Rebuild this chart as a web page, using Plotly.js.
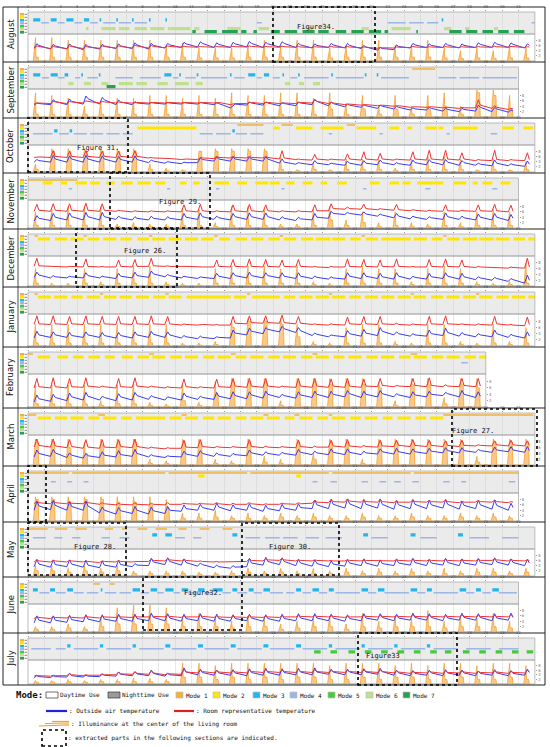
<!DOCTYPE html>
<html><head><meta charset="utf-8">
<script src="https://cdn.plot.ly/plotly-3.0.1.min.js"></script>
<style>body{margin:0;background:#fff}#chart{width:550px;height:747px}</style>
</head><body><div id="chart"></div><script>
// ---------------- DATA ----------------
const monthNames=['August','September','October','November','December','January','February','March','April','May','June','July'];
const monthDays=[31,30,31,30,31,31,28,31,30,31,30,31];
const modeNames=['Mode 1','Mode 2','Mode 3','Mode 4','Mode 5','Mode 6','Mode 7'];
const sampleHours=[9,13,16]; // hours of the three daily temperature readings
// temperatures: three readings per day (9h,13h,16h), panel level 0-10
// illuminance: two values per day (peak, afternoon level)
const augOut=[5.0,6.6,6.0,4.6,6.4,5.8,4.6,6.6,5.8,4.4,6.4,5.6,4.6,6.4,5.8,4.8,6.6,5.8,4.8,7.0,6.2,4.6,6.8,6.0,5.0,6.8,6.2,5.2,7.2,6.6,
5.4,7.4,6.8,5.2,7.0,6.4,5.2,7.2,6.6,5.4,7.6,6.8,5.2,7.2,6.6,5.4,7.4,6.8,5.2,6.8,6.2,5.0,6.6,6.0,5.2,6.8,6.2,5.0,6.8,6.0,
4.8,6.0,5.4,4.2,5.2,4.8,4.4,6.2,5.6,5.0,6.8,6.2,5.2,6.6,6.0,5.2,6.8,6.2,5.0,6.6,6.0,5.2,7.0,6.4,5.2,7.2,6.6,5.2,7.0,6.4,5.0,6.6,6.0];
const augRoom=[4.8,5.8,5.6,4.8,5.6,5.4,4.8,5.8,5.6,4.8,5.6,5.4,4.9,5.8,5.6,5.0,5.8,5.6,5.0,6.1,5.8,5.0,6.0,5.6,5.1,5.8,5.6,5.3,5.7,5.5,
5.3,5.6,5.5,5.3,5.6,5.5,5.3,5.7,5.5,5.4,5.8,5.6,5.3,5.6,5.5,5.3,5.7,5.5,5.3,5.6,5.4,5.2,5.5,5.4,5.3,5.6,5.4,5.2,5.6,5.4,
5.1,5.4,5.3,4.9,5.2,5.1,5.0,5.4,5.3,5.2,5.6,5.4,5.2,5.5,5.4,5.2,5.6,5.4,5.2,5.5,5.4,5.2,5.6,5.4,5.3,5.7,5.5,5.3,5.6,5.5,5.2,5.5,5.4];
const augLux=[9,1.5,9,1.5,8,1.5,8,1.5,8,1.5,8,1.5,8,1.5,8,1.5,6,1.5,7,1.5,5,1.2,5,1.2,5,1.2,6,1.5,8,1.5,6,1.5,8,1.5,8,1.5,5,1.2,6,1.5,8,1.5,8,1.5,6,1.5,6,1.5,8,1.5,5,1.2,4,1,5,1.2,4,1,6,1.2,5,1.2];
const augM3=[1.32,1.75,2.39,2.75,3.35,3.78,4.42,4.74,5.38,5.48,6.4,6.5,7.36,7.46,8.4,8.5,9.4,9.5,26.3,26.4];
const augM4=[1.81,2.28,2.82,3.24,3.84,4.31,4.8,5.27,5.6,6.35,6.56,7.31,7.52,8.27,15.0,15.3,23.0,24.1,24.3,25.2,25.4,26.1,31.8,32.0];
const augM6=[4.55,4.7,5.49,6.35,6.56,7.2,7.52,8.27,8.48,9.34,9.55,10.94,11.16,11.48,13.19,14.0,15.1,15.75,18.1,18.4,21.4,21.85,23.24,24.4,26.45,26.9,27.73,28.0,29.5,29.75];
const augM7=[11.05,11.26,11.8,12.55,12.87,13.83,14.04,14.36,14.79,15.0,15.86,16.4,16.7,17.46,17.79,18.53,18.75,19.39,19.82,20.46,20.78,21.53,21.85,22.6,22.81,23.03,24.75,24.85,26.77,27.52,27.8,28.48,28.8,29.44,29.76,30.4,30.72,31.36];

const sepOut=[4.4,5.2,5.0,4.6,6.4,5.8,4.6,6.7,5.8,4.8,7.8,6.8,4.8,7.3,6.4,4.6,6.3,5.6,4.6,5.7,5.2,4.8,5.4,5.2,4.8,5.4,5.2,4.8,5.4,5.2,
4.8,5.4,5.2,4.6,5.2,5.0,3.4,4.4,4.8,4.4,5.6,5.2,4.4,5.6,5.2,4.2,5.4,5.0,4.2,5.6,5.2,4.6,6.6,5.8,4.2,5.6,5.0,3.8,4.8,4.4,
3.6,4.6,4.2,3.2,4.4,4.0,3.0,4.0,3.6,2.6,3.4,3.0,2.6,3.6,3.2,2.2,3.2,2.8,2.0,3.2,2.8,2.2,4.4,3.6,2.0,3.6,3.0,1.8,2.6,2.2];
const sepRoom=[4.8,5.2,5.2,5.0,5.8,5.6,5.0,5.8,5.6,5.2,6.0,5.8,5.2,5.8,5.6,5.2,5.6,5.4,5.2,5.4,5.4,5.2,5.4,5.4,5.2,5.4,5.4,5.2,5.4,5.4,
5.2,5.4,5.4,5.2,5.4,5.4,4.6,4.8,5.0,5.0,5.4,5.4,5.0,5.4,5.4,5.0,5.2,5.2,5.0,5.4,5.4,5.2,6.4,5.8,5.0,5.4,5.2,4.6,4.8,4.8,
4.4,4.6,4.6,4.2,4.4,4.4,4.0,4.2,4.2,3.6,3.8,3.8,3.6,3.8,3.8,3.4,3.6,3.6,3.2,3.6,3.4,3.4,6.4,4.4,3.2,4.2,3.6,2.8,3.2,3.0];
const sepLux=[9,1,8,1,7,1,4,1,6,1,7,1,7,1,8,1,8,1,7,1,8,1,7,1,9,1,8,1,8,1,9,1,9,1,7,1,9,3,5,1,8,3,4,1,8,3,4,1,8,3,9,4,4,1,10,9,10,8,8,3];
const sepM1=[24.5,25.9];
const sepM3=[1.32,1.75,2.39,2.82,3.24,3.46,4.26,4.36,5.33,5.43,9.34,9.77,10.25,10.35,11.32,11.42,13.35,13.45,14.47,14.9,15.43,15.75,16.56,16.66,17.52,17.62,19.55,19.65,21.6,21.7,22.33,22.43];
const sepM4=[1.85,2.28,2.82,3.24,3.88,4.2,4.63,5.27,6.35,7.41,7.84,9.12,9.87,10.2,10.62,11.26,11.58,13.19,13.62,14.26,15.0,15.3,15.97,16.4,17.04,17.47,17.89,19.39,19.82,21.53,22.6,24.3,26.1,27.2,27.4,28.6,28.8,30.9];
const sepM6=[3.46,3.78,4.42,4.85,5.49,5.92,6.56,7.41,7.63,8.27,8.91,9.55,9.98,10.84,11.26,11.69,16.72,17.04,17.57,17.89,18.43,18.86];
const sepM7=[5.81,6.35];

const octOut=[3.8,4.8,4.4,3.8,6.4,5.0,3.8,6.2,5.0,3.8,6.4,5.0,3.8,6.2,5.0,3.8,6.0,4.8,3.8,6.2,4.8,3.6,4.6,4.2,3.4,4.0,3.8,3.2,3.8,3.6,
3.6,5.4,4.8,4.2,5.8,5.0,4.2,5.8,5.0,4.2,5.8,5.0,4.2,5.8,5.0,3.4,5.0,3.8,3.0,3.6,3.4,2.8,4.4,3.4,2.8,3.4,3.2,2.6,4.2,3.4,
2.6,4.4,3.4,2.8,4.6,3.6,2.8,3.6,3.2,2.6,4.6,3.6,2.8,4.8,3.8,2.8,4.8,3.8,2.6,4.4,3.6,2.6,3.4,3.0,2.4,4.6,3.4,2.4,3.2,2.8,2.2,4.2,3.0];
const octRoom=[5.6,5.8,5.8,5.6,8.2,6.0,5.6,8.0,6.0,5.6,8.2,6.0,5.6,8.0,6.0,5.6,8.0,6.0,5.6,8.2,6.0,5.4,5.6,5.4,5.2,5.4,5.2,4.8,5.0,5.0,
4.8,5.6,5.4,5.2,6.0,5.6,5.4,6.0,5.6,5.4,6.0,5.6,5.4,6.0,5.6,5.0,8.2,5.4,4.8,5.0,4.8,4.6,6.8,5.0,4.6,5.0,4.8,4.6,7.0,5.0,
4.6,7.8,5.0,4.6,7.2,5.0,4.6,5.0,4.8,4.6,7.8,5.0,4.6,8.4,5.0,4.6,8.4,5.0,4.6,7.4,5.0,4.4,4.8,4.6,4.4,8.4,4.8,4.4,4.8,4.6,4.4,7.4,4.8];
const octLux=[3,1,9,8,9,8,9,8,9,8,9,8,9,8,3,1,1.5,0.5,1,0.5,8,8,9,8,9,8,9,8,9,8,6,1,1,0.5,4,1,1,0.5,5,1,5,1,5,1,1.5,0.5,5,1,6,1,6,1,5,1,1,0.5,5,1,1,0.5,4,1];
const octM1=[13.8,15.4,16.5,17.2,20.5,21.0];
const octM2=[7.7,11.3,16.0,16.4,17.4,18.4,18.9,20.3,21.1,22.3,23.1,23.7,24.2,24.5,25.3,26.0,26.1,26.4,27.0,28.5,30.0,30.7,31.3,31.9];
const octM3=[2.6,2.8,3.55,3.7,13.5,13.65];
const octM4=[1.3,2.5,2.9,3.5,3.8,4.6,4.8,5.6,5.8,6.6,6.8,7.4,11.5,12.3,12.5,13.4,13.7,14.4,14.6,15.4,19.4,19.6,22.5,22.7,26.6,26.8,29.3,29.7];

const novOut=[2.6,4.6,3.6,2.8,5.4,4.0,3.0,5.6,4.2,3.0,5.8,4.2,3.0,5.8,4.2,3.2,4.4,3.8,3.0,4.2,3.6,3.0,4.4,3.6,3.0,4.2,3.6,3.0,5.4,4.0,
3.2,5.6,4.2,3.2,4.4,3.8,3.0,5.4,4.2,3.2,5.6,4.2,3.2,5.6,4.2,3.0,4.2,3.6,2.8,4.0,3.4,3.0,5.4,4.0,3.6,6.2,5.4,5.0,5.8,5.4,
4.8,6.0,5.2,4.4,5.2,4.8,3.8,5.4,4.4,3.4,4.4,4.0,3.2,4.2,3.8,3.2,5.6,4.2,3.2,4.4,3.8,3.0,5.2,4.0,3.0,5.4,4.0,2.8,5.0,3.6];
const novRoom=[6.2,8.8,6.6,6.2,9.0,6.6,6.2,9.0,6.6,6.2,9.2,6.6,6.2,9.0,6.6,6.2,6.6,6.4,6.0,6.4,6.2,6.0,6.4,6.2,6.0,6.4,6.2,6.0,8.6,6.4,
6.0,8.8,6.4,6.0,6.4,6.2,6.0,8.6,6.4,6.0,8.8,6.4,6.0,8.6,6.4,6.0,6.4,6.2,6.0,6.4,6.2,6.0,8.6,6.4,6.4,9.0,7.2,7.0,7.8,7.2,
7.0,8.8,7.2,6.8,7.2,7.0,6.6,8.8,6.8,6.4,6.8,6.6,6.2,6.6,6.4,6.2,8.6,6.4,6.2,6.6,6.4,6.2,8.6,6.4,6.2,8.8,6.4,6.0,8.4,6.2];
const novLux=[6,1,7,1,8,1,8,1,8,1,1.5,0.5,2,0.5,1.5,0.5,1.5,0.5,7,1,7,1,2,0.5,8,1,8,1,7,1,1.5,0.5,1.5,0.5,7,1,8,3,3,1,6,2,2,0.5,6,1,2,0.5,1.5,0.5,6,1,2,0.5,6,1,7,1,6,1];
const novM1=[1.0,4.0];
const novM2=[1.9,2.5,3.0,3.4,3.9,4.6,4.8,5.4,5.8,6.3,6.7,7.4,7.7,8.5,8.8,9.4,10.3,10.7,11.1,11.5,12.4,13.3,13.8,14.4,14.9,15.7,15.8,16.4,16.8,17.3,17.8,18.4,18.9,19.3,19.9,20.5,21.9,22.5,23.1,23.7,23.9,24.4,24.8,26.4,27.0,27.8,28.2,28.5,28.8,29.4,29.9,30.5];
const novM4=[3.5,3.7,9.5,9.7,12.5,12.7,16.5,16.7,21.5,21.7,25.3,25.6,29.4,29.7];

const decOut=[3.0,4.8,3.8,2.8,3.6,3.2,2.8,3.4,3.2,2.8,4.6,3.6,2.8,3.4,3.2,2.6,4.4,3.4,2.8,4.8,3.6,3.0,5.2,4.2,3.2,4.0,3.6,2.8,3.4,3.2,
2.6,3.2,3.0,2.6,4.4,3.4,2.6,4.6,3.6,2.8,4.8,3.6,2.8,4.6,3.6,2.8,4.6,3.4,2.6,4.6,3.4,2.6,3.4,3.0,2.4,3.2,2.8,2.4,4.6,3.4,
2.6,4.6,3.4,2.6,4.4,3.2,2.4,4.6,3.4,2.4,3.4,3.0,2.4,4.4,3.2,2.6,4.6,3.4,2.4,4.4,3.2,2.2,3.2,2.8,2.0,3.0,2.6,1.6,2.6,2.2,1.0,3.8,2.0];
const decRoom=[6.8,9.6,7.0,6.8,7.0,6.8,6.6,6.8,6.8,6.6,9.4,6.8,6.6,6.8,6.6,6.6,9.0,6.8,6.6,9.2,6.8,6.8,9.6,7.0,6.8,7.0,6.8,6.6,6.8,6.8,
6.6,6.8,6.6,6.6,9.0,6.8,6.6,9.2,6.8,6.6,9.4,6.8,6.6,9.2,6.8,6.6,9.0,6.8,6.6,9.2,6.8,6.6,6.8,6.6,6.4,6.8,6.6,6.6,9.4,6.8,
6.6,9.2,6.8,6.6,9.0,6.8,6.6,9.4,6.8,6.6,6.8,6.6,6.6,9.2,6.8,6.6,9.4,6.8,6.6,9.0,6.8,6.4,6.8,6.6,6.4,6.6,6.4,6.2,6.6,6.4,6.2,9.6,6.6];
const decLux=[6,1,1,0.3,1,0.3,6,1,1.5,0.5,6,1,7,1,7,1,1.5,0.5,1,0.3,1,0.3,6,1,7,1,7,1,7,1,6,1,7,1,1.5,0.5,1,0.3,6,1,7,1,6,1,6,1,1.5,0.5,6,1,7,1,6,1,1.5,0.5,1,0.3,1.5,0.5,8,1];
const decM1=[1.4,1.6,4.4,4.6,8.4,8.6,12.4,12.6,16.4,16.6,21.4,21.6,26.4,26.6];
const decM2=[1.6,2.35,2.65,3.4,3.6,4.4,4.65,5.35,5.6,6.4,6.65,7.35,7.7,8.4,8.6,9.4,9.6,10.4,10.6,11.4,11.6,12.35,12.7,13.35,13.7,14.4,14.65,15.4,15.7,16.4,16.65,17.4,17.7,18.45,18.6,19.5,19.6,20.4,20.7,21.35,21.65,22.4,22.6,24.4,24.6,25.4,25.7,26.35,26.65,27.4,27.6,28.5,28.6,29.5,29.6,30.45,30.7,31.4,31.6,32.0];

const janOut=[2.6,4.8,3.6,2.8,4.6,3.6,2.8,4.4,3.4,2.8,4.6,3.6,2.8,4.4,3.4,2.6,4.4,3.4,2.6,4.6,3.6,2.8,4.8,3.8,2.8,4.6,3.6,2.6,3.4,3.0,
2.4,3.2,2.8,2.4,3.0,2.8,2.6,5.2,4.2,3.6,5.8,4.8,4.0,6.0,5.4,4.6,6.4,5.6,4.4,6.0,5.0,3.4,4.2,3.8,3.0,3.6,3.4,3.0,5.0,4.0,
3.2,5.4,4.2,3.4,6.0,4.8,3.6,4.6,4.0,3.2,4.0,3.6,3.2,5.2,4.0,3.4,5.8,4.4,3.2,4.4,3.8,3.0,4.0,3.6,3.0,5.2,4.0,2.8,3.8,3.4,2.6,4.6,3.2];
const janRoom=[7.0,9.8,7.2,7.0,9.8,7.2,7.0,9.6,7.2,7.0,9.8,7.2,7.0,9.6,7.2,7.0,9.6,7.2,7.0,9.6,7.2,7.0,9.8,7.2,7.0,9.6,7.2,6.8,7.2,7.0,
6.8,7.0,7.0,6.8,7.0,6.8,6.8,9.6,7.4,7.2,9.8,7.6,7.4,9.8,7.6,7.4,10.0,7.6,7.2,9.6,7.4,7.0,7.2,7.0,6.8,7.2,7.0,6.8,9.4,7.2,
7.0,9.6,7.2,7.0,9.6,7.2,7.0,7.4,7.0,6.8,7.2,7.0,6.8,9.6,7.2,7.0,9.8,7.2,7.0,7.2,7.0,6.8,7.2,7.0,6.8,9.6,7.2,6.8,7.0,6.8,6.6,9.4,7.0];
const janLux=[7,1,7,1,7,1,7,1,7,1,7,1,7,1,7,1,7,1,1,0.3,1,0.3,1.5,0.5,8,6,9,8,9,8,9,7,7,3,1.5,0.5,1,0.3,6,1,7,1,7,1,1.5,0.5,1,0.3,7,1,7,1,1.5,0.5,1,0.3,7,1,1.5,0.5,6,1];
const janM1=[1.4,1.6,5.4,5.6,9.4,9.6,14.4,14.6,19.4,19.6,24.4,24.6,28.4,28.6];
const janM2=[1.6,2.4,2.6,3.4,3.65,4.35,4.6,5.4,5.65,6.4,6.6,7.35,7.6,8.4,8.65,9.4,9.6,10.4,10.7,13.4,13.6,14.35,14.7,16.4,16.65,17.35,17.6,18.4,18.6,19.4,19.6,20.4,20.65,21.35,21.6,22.4,22.6,23.4,23.6,24.4,24.6,25.35,25.65,26.4,26.6,27.4,27.6,28.4,28.6,29.4,29.65,30.4,30.6,31.4,31.6,32.0];

const febOut=[1.6,3.8,2.6,1.8,4.0,3.0,2.0,4.4,3.2,2.2,4.6,3.4,2.2,3.4,3.0,2.0,4.2,3.2,2.2,4.6,3.6,2.4,3.6,3.2,2.2,3.2,3.0,2.2,4.4,3.4,
2.4,3.4,3.0,2.4,4.6,3.4,2.6,4.8,3.6,2.6,4.8,3.8,2.8,5.0,4.0,3.0,4.0,3.6,2.8,4.8,3.8,3.0,5.0,4.0,3.0,5.0,4.0,3.2,5.2,4.2,
3.0,5.0,4.0,3.2,5.2,4.2,3.2,4.2,3.8,3.0,4.8,3.8,3.2,5.0,4.0,3.6,4.6,4.2,3.2,5.2,4.0,3.0,4.8,3.4];
const febRoom=[6.0,9.0,6.4,6.0,9.2,6.4,6.0,9.0,6.4,6.2,9.2,6.6,6.2,6.6,6.4,6.0,9.0,6.4,6.2,9.2,6.6,6.2,6.6,6.4,6.0,6.4,6.2,6.0,8.8,6.4,
6.0,6.4,6.2,6.0,8.8,6.4,6.2,9.0,6.6,6.2,9.0,6.6,6.2,9.0,6.6,6.2,6.6,6.4,6.2,9.0,6.6,6.2,9.0,6.6,6.2,8.8,6.6,6.2,9.0,6.6,
6.2,8.8,6.6,6.4,9.0,6.8,6.4,6.8,6.6,6.4,9.0,6.8,6.4,9.2,6.8,6.4,7.0,6.6,6.4,9.0,6.8,6.4,9.0,6.6];
const febLux=[7,1,7,1,7,1,7,1,2,0.5,7,1,8,1,1.5,0.5,1,0.3,7,2,1.5,0.5,8,4,9,8,9,8,9,8,2,0.5,9,8,9,8,9,7,9,8,9,7,8,6,2,0.5,9,7,9,7,3,1,9,7,9,6];
const febM1=[1.0,1.3,8.4,8.7,13.4,13.7,18.4,18.7,24.4,24.8];
const febM2=[1.6,2.35,2.8,3.45,3.75,4.4,4.7,5.4,5.7,6.3,6.75,7.4,7.7,8.4,8.6,9.4,9.7,10.4,10.6,11.4,11.7,12.4,12.6,13.4,13.7,14.35,14.6,15.4,15.7,16.4,16.6,17.4,17.7,18.4,18.6,19.4,19.7,20.35,20.6,21.4,21.7,22.4,22.6,23.4,23.7,24.4,24.6,25.4,25.7,26.4,26.6,27.4,27.7,28.4,28.6,29.0];
const febM4=[27.5,27.9];

const marOut=[2.8,5.2,4.0,3.0,5.4,4.2,2.6,4.2,3.4,2.4,4.0,3.2,2.6,4.6,3.4,2.8,5.0,3.6,3.0,5.4,4.0,2.8,3.6,3.2,2.6,3.2,3.0,2.8,4.8,3.8,
3.0,5.0,4.0,3.0,4.2,3.6,3.0,4.0,3.6,3.2,5.2,4.2,3.4,4.6,4.0,3.4,4.4,4.0,3.4,5.4,4.4,3.6,4.8,4.2,3.6,5.6,4.4,3.6,5.6,4.4,
3.6,4.8,4.2,3.8,5.6,4.6,3.8,5.8,4.6,3.8,5.6,4.6,4.0,5.8,4.8,4.2,6.0,5.0,4.2,6.0,5.0,4.4,5.4,5.0,4.4,6.2,5.2,4.6,6.4,5.2,4.4,6.4,5.0];
const marRoom=[6.2,9.0,6.8,6.2,9.0,6.6,6.0,8.8,6.4,5.8,8.8,6.2,5.8,8.8,6.2,6.0,8.8,6.4,6.0,9.0,6.4,5.8,6.2,6.0,5.6,6.0,5.8,5.8,8.6,6.2,
6.0,8.8,6.4,6.0,6.4,6.2,6.0,6.4,6.2,6.0,8.8,6.4,6.0,6.6,6.2,6.0,6.4,6.2,6.0,8.6,6.4,6.0,6.6,6.2,6.2,8.6,6.6,6.2,8.8,6.6,
6.2,6.8,6.4,6.2,8.6,6.6,6.4,8.6,6.8,6.4,8.8,6.8,6.4,8.6,6.8,6.4,8.4,6.8,6.4,8.6,6.8,6.6,7.0,6.8,6.6,8.4,7.0,6.6,8.6,7.0,6.6,8.4,6.8];
const marLux=[9,8,9,8,9,6,8,4,9,7,9,8,9,8,2,0.5,1.5,0.5,9,8,9,8,2,0.5,1.5,0.5,9,8,3,1,2,0.5,9,8,4,2,9,8,9,8,2,0.5,9,8,9,8,9,8,9,8,9,8,9,8,3,1,9,8,9,8,9,8];
const marM1=[1.0,1.5,5.3,5.7,10.4,10.7,15.4,15.7,17.3,17.6,19.4,19.6,26.4,31.9];
const marM2=[1.6,2.4,2.65,3.4,3.6,4.4,4.7,5.35,5.6,6.4,6.7,7.35,7.6,9.4,9.65,10.4,10.6,11.4,11.7,12.4,12.6,13.4,13.7,14.35,14.6,15.4,15.6,16.4,16.7,17.3,17.6,18.4,18.7,19.35,19.6,20.4,20.7,21.35,21.6,22.4,22.7,23.3,23.6,24.4,24.7,25.35,25.6,26.4];

const aprOut=[4.0,7.4,5.6,4.2,7.6,5.8,4.0,7.2,5.4,4.0,7.4,5.6,3.0,5.2,4.0,2.6,5.0,3.8,2.8,5.4,4.0,2.6,5.2,3.8,2.8,5.4,4.0,3.6,6.0,4.6,
4.0,6.2,5.0,4.0,6.6,5.2,3.8,6.0,4.8,4.0,6.4,5.0,3.6,5.8,4.6,3.8,6.2,4.8,4.0,6.4,5.0,4.6,7.8,6.0,4.6,8.0,6.2,4.8,8.2,6.4,
4.6,8.0,6.2,4.8,8.2,6.2,4.4,7.6,6.0,4.6,8.0,6.2,4.6,7.8,6.0,4.8,8.0,6.2,4.4,7.4,5.8,4.6,7.8,6.0,4.4,7.8,5.8,4.0,6.6,5.0];
const aprRoom=[6.4,7.4,6.8,6.4,7.6,6.8,6.4,7.2,6.6,6.4,7.4,6.8,6.2,6.8,6.4,6.0,6.6,6.2,6.0,6.8,6.2,6.0,6.6,6.2,6.0,6.8,6.2,6.2,6.6,6.4,
6.2,6.6,6.4,6.2,6.8,6.4,6.0,6.6,6.2,6.2,6.8,6.4,6.0,6.4,6.2,6.2,6.6,6.4,6.2,6.8,6.4,6.6,7.8,7.0,6.8,8.0,7.2,7.0,8.2,7.4,
7.0,7.8,7.2,7.0,8.0,7.2,6.8,7.6,7.0,7.0,7.8,7.2,7.0,7.6,7.2,7.0,7.8,7.2,6.8,7.4,7.0,7.0,7.6,7.2,7.0,7.8,7.2,6.8,7.2,7.0];
const aprLux=[9,8,9,8,9,7,9,8,9,8,9,7,9,7,9,6,8,5,3,1,3,1,4,1.5,2,1,3,1,2,1,3,1.5,2,1,3,1.5,2,1,2,1,3,1.5,2,1,2,1,3,1.5,2,1,2,1,3,1.5,2,1,3,1.5,2,1];
const aprM1=[1.0,3.5,3.7,9.4,9.6,14.4,14.6,19.4,19.6,24.4,24.6,31.0];
const aprM2=[11.4,11.8,17.4,17.7];
const aprM4=[2.4,2.7,3.4,3.7,4.4,4.7,18.4,18.7,19.5,19.9,21.4,21.8,22.5,22.9,23.4,23.8,24.5,24.9,26.4,26.8,27.5,27.8,30.4,30.8];

const mayOut=[3.6,6.4,4.6,3.4,6.2,4.4,3.6,6.2,4.6,3.4,6.0,4.2,3.2,5.8,4.2,3.4,6.0,4.4,3.6,4.8,4.2,4.0,6.8,5.4,4.4,7.0,5.6,4.2,6.6,5.2,
3.8,5.0,4.4,3.2,4.2,3.6,3.0,4.0,3.4,3.6,6.8,5.0,4.2,7.2,5.6,4.4,7.0,5.6,4.0,6.4,5.0,3.8,6.2,4.8,3.6,5.8,4.6,3.8,6.4,5.0,
4.0,6.6,5.0,3.8,6.2,4.8,4.0,6.6,5.0,4.2,6.8,5.2,4.0,6.4,5.0,4.2,6.8,5.2,4.0,6.6,5.0,4.2,6.8,5.2,4.4,7.0,5.4,4.2,6.6,5.2,4.0,6.4,5.0];
const mayRoom=[5.4,6.2,5.8,5.4,6.0,5.8,5.4,6.0,5.8,5.4,5.8,5.6,5.2,5.8,5.6,5.4,6.0,5.6,5.4,5.6,5.6,5.6,6.6,6.0,5.8,6.8,6.2,5.8,6.4,6.0,
5.6,5.8,5.6,5.4,5.6,5.4,5.4,5.6,5.4,5.6,6.6,6.0,5.8,6.8,6.2,6.0,6.8,6.2,5.8,6.2,6.0,5.8,6.2,6.0,5.8,6.0,5.8,5.8,6.2,6.0,
5.8,6.2,6.0,5.8,6.0,5.8,5.8,6.2,6.0,5.8,6.4,6.0,5.8,6.2,6.0,5.8,6.4,6.0,5.8,6.2,6.0,5.8,6.4,6.0,6.0,6.6,6.2,5.8,6.4,6.0,5.8,6.2,6.0];
const mayLux=[4,2,4,2,3,1.5,4,2,3,1.5,4,2,2,1,2,1,2,1,2,1,1.5,0.8,1.5,0.8,2,1,3,1.5,2,1,3,1.5,2,1,3,1,2,1,3,1.5,2,1,3,1.5,2,1,3,1.5,2,1,3,1,2,1,3,1.5,3,1.5,2,1,3,1.5];
const mayM1=[1.0,2.2,2.65,3.4,3.9,4.6,5.7,6.2,6.75,7.05,7.7,8.3,8.8,9.5,10.2,10.7,11.5,12.1,12.9,13.5];
const mayM3=[8.6,8.9,9.4,9.8,13.5,13.8,21.5,21.8,24.4,24.7,27.3,27.6];
const mayM4=[1.3,2.1,2.6,3.1,3.7,4.2,5.5,6.0,6.6,7.2,10.0,10.6,11.1,11.6,14.3,15.2,15.5,16.4,16.6,17.5,18.0,18.8,19.2,20.2,22.0,23.0,25.0,26.0,28.0,29.2,30.0,31.0];

const junOut=[3.4,6.0,4.4,3.4,6.0,4.4,3.6,6.2,4.6,3.8,6.4,4.8,3.8,6.4,4.8,4.0,6.6,5.0,4.0,6.6,5.0,4.2,7.0,5.4,4.2,6.8,5.2,4.0,6.6,5.0,
4.2,6.8,5.2,4.0,6.6,5.0,4.0,6.4,5.0,4.2,6.6,5.2,4.0,6.4,5.0,4.0,6.6,5.0,4.2,6.8,5.2,4.2,6.8,5.2,4.2,6.6,5.2,4.0,6.4,5.0,
4.2,6.8,5.2,4.4,6.8,5.4,4.2,6.6,5.2,4.4,7.0,5.4,4.4,6.8,5.4,4.2,6.6,5.2,4.4,7.0,5.4,4.4,6.8,5.4,4.2,6.8,5.2,4.4,7.0,5.4];
const junRoom=[5.0,5.6,5.4,5.0,5.6,5.4,5.2,5.8,5.4,5.2,5.8,5.6,5.2,5.8,5.6,5.4,6.0,5.6,5.4,6.0,5.6,5.6,6.4,5.8,5.6,6.2,5.8,5.4,6.0,5.6,
5.6,6.2,5.8,5.4,6.0,5.6,5.4,5.8,5.6,5.4,6.0,5.6,5.4,5.8,5.6,5.4,6.0,5.6,5.6,6.2,5.8,5.6,6.2,5.8,5.6,6.0,5.8,5.4,5.8,5.6,
5.6,6.2,5.8,5.6,6.2,5.8,5.6,6.0,5.8,5.6,6.4,5.8,5.6,6.2,5.8,5.6,6.0,5.8,5.6,6.4,5.8,5.6,6.2,5.8,5.6,6.2,5.8,5.6,6.4,5.8];
const junLux=[2,1,2,1,3,1.5,2,1,5,2,9,3,10,3,10,3,9,3,5,2,7,2,5,2,4,1.5,6,2,5,2,3,1,4,1.5,5,2,6,2,3,1,7,2,4,1.5,6,2,5,2,8,2,4,1.5,6,2,5,2,7,2,4,1.5];
const junM1=[5.0,5.4,6.0,6.3];
const junM3=[1.3,1.6,2.35,2.65,3.4,3.75,5.45,5.55,7.4,7.85,8.5,8.9,9.4,9.9,10.4,10.8,11.4,11.8,12.3,12.9,13.5,13.8,14.5,14.8,15.4,15.8,17.4,17.7,18.4,18.8,19.4,19.7,21.4,21.8,22.4,22.8,24.4,24.8,25.4,25.7,27.4,27.8,28.4,28.7,29.4,29.8];
const junM4=[1.7,2.3,2.7,3.3,3.8,4.4,4.6,5.3,5.7,6.4,6.6,7.3,7.9,8.4,8.9,9.3,9.9,10.3,10.8,11.3,11.8,12.2,12.9,13.4,13.8,14.4,14.8,15.3,15.8,16.6,16.8,17.3,17.8,18.3,18.8,19.3,19.8,21.3,21.8,22.3,22.8,24.3,24.8,25.3,25.8,27.3,27.8,28.3,28.8,29.3,29.8,30.9];

const julOut=[2.8,3.6,3.2,2.8,3.6,3.2,3.0,4.6,3.6,3.0,3.8,3.4,3.2,4.2,3.8,3.4,5.2,4.2,3.6,5.4,4.4,3.6,6.0,4.6,3.4,4.6,4.0,3.6,7.0,5.2,
4.0,6.4,5.0,3.8,6.0,4.8,3.8,6.2,4.8,3.6,6.6,5.0,3.8,6.8,5.0,3.8,6.6,5.0,4.0,6.8,5.2,4.0,7.0,5.2,4.2,6.4,5.2,4.0,6.4,5.2,
4.0,6.6,5.2,4.2,6.8,5.4,3.8,6.0,4.8,3.6,5.8,4.6,3.8,6.0,4.8,3.6,6.2,4.8,3.8,6.0,4.8,3.6,5.6,4.6,3.8,6.2,4.8,3.6,5.8,4.6,3.8,6.4,5.0];
const julRoom=[3.4,3.8,3.6,3.4,3.8,3.6,3.6,4.6,4.0,3.6,4.0,3.8,3.8,4.4,4.0,4.0,5.2,4.4,4.2,5.2,4.6,4.2,5.8,4.8,4.0,4.6,4.4,4.2,6.4,5.2,
4.8,6.0,5.4,4.8,5.8,5.2,4.8,5.8,5.2,4.8,6.0,5.4,5.0,6.2,5.4,5.0,6.0,5.4,5.0,6.2,5.4,5.0,6.2,5.4,5.0,5.8,5.4,5.0,5.8,5.4,
5.0,6.0,5.4,5.0,6.0,5.4,4.8,5.6,5.2,4.6,5.4,5.0,4.8,5.6,5.2,4.6,5.6,5.0,4.8,5.6,5.2,4.6,5.4,5.0,4.8,5.6,5.2,4.6,5.4,5.0,4.8,5.8,5.2];
const julLux=[1.5,0.8,1.5,0.8,2,1,1.5,0.8,2,1,2,1,2.5,1,2.5,1,2,1,9,3,9,3,8,2,9,3,9,2,9,3,9,2,9,3,9,3,8,2,9,2,9,3,9,2,8,3,9,3,8,2,9,2,9,3,8,2,9,2,9,3,8,2];
const julM3=[3.4,3.6,5.4,5.6,7.4,7.6,9.4,9.7,11.4,11.7,13.4,13.7,15.4,15.7,17.4,17.7,19.4,19.6,21.4,21.6,23.4,23.6,25.4,25.6];
const julM4=[1.2,2.4,2.7,3.3,3.8,5.3,5.8,7.3,7.8,9.3,9.8,11.3,11.8,13.3,13.8,15.3,15.8,17.3,17.8,19.3,19.8,21.3,21.8,23.3,23.8,25.3,25.8,27.3,27.8,29.3,29.8,31.0];
const julM5=[18.5,18.9,19.5,19.9,20.6,21.0,21.6,22.0,22.6,23.0,23.6,24.0,24.6,25.0,25.6,26.0,26.5,26.9,27.6,28.0,28.6,29.0,29.6,30.0,30.6,31.0,31.5,31.9];

// extracted parts (figure references), labels
const figureLabels=['Figure34.','Figure 31.','Figure 29.','Figure 26.','Figure 27.','','Figure 28.','Figure 30.','Figure32.','Figure33'];

// ---------------- TABLES BUILT FROM THE ARRAYS ----------------
const monthOut=[augOut,sepOut,octOut,novOut,decOut,janOut,febOut,marOut,aprOut,mayOut,junOut,julOut];
const monthRoom=[augRoom,sepRoom,octRoom,novRoom,decRoom,janRoom,febRoom,marRoom,aprRoom,mayRoom,junRoom,julRoom];
const monthLux=[augLux,sepLux,octLux,novLux,decLux,janLux,febLux,marLux,aprLux,mayLux,junLux,julLux];
const monthModes=[
 {3:augM3,4:augM4,6:augM6,7:augM7},
 {1:sepM1,3:sepM3,4:sepM4,6:sepM6,7:sepM7},
 {1:octM1,2:octM2,3:octM3,4:octM4},
 {1:novM1,2:novM2,4:novM4},
 {1:decM1,2:decM2},
 {1:janM1,2:janM2},
 {1:febM1,2:febM2,4:febM4},
 {1:marM1,2:marM2},
 {1:aprM1,2:aprM2,4:aprM4},
 {1:mayM1,3:mayM3,4:mayM4},
 {1:junM1,3:junM3,4:junM4},
 {3:julM3,4:julM4,5:julM5}
];

// ---------------- STYLE / GEOMETRY ----------------
const W=550,H=747;
const px=x=>x/W, py=y=>1-y/H;
const rowTop=[7,62,118,173,229,287,347,408,466,522,577,633,685];
const plotX0=28, dayW=16.35, header=5, stripH=22;
const modeColors=['#f0b23a','#ffe600','#22b5ee','#9cb6e6','#48c83c','#bfe08e','#26a052'];
const modeWidths=[1.6,3.2,3.2,1.5,3.2,3.2,3.2];
const FONT='DejaVu Sans Mono';

const traces=[], shapes=[], annotations=[];
const layout={width:W,height:H,margin:{l:0,r:0,t:0,b:0},paper_bgcolor:'#fff',plot_bgcolor:'rgba(0,0,0,0)',
  showlegend:false,hovermode:false,shapes:shapes,annotations:annotations};

for(let i=0;i<12;i++){
  const n=monthDays[i];
  const xn=i===0?'x':'x'+(i+1);
  const ysn=i===0?'y':'y'+(2*i+1);
  const ytn='y'+(2*i+2);
  const top=rowTop[i], bot=rowTop[i+1];
  const sTop=top+header, sBot=sTop+stripH;
  const days=[]; for(let d=1;d<=n;d++) days.push(d);

  // illuminance
  const lux=monthLux[i], lx=[], ly=[];
  for(let d=0;d<n;d++){
    const D=d+1, pk=lux[2*d], pl=lux[2*d+1];
    lx.push(D+0.32,D+0.46,D+0.49,D+0.62,D+0.66);
    ly.push(0,pk,pl,pl,0);
  }
  traces.push({type:'scatter',mode:'lines',x:lx,y:ly,xaxis:xn,yaxis:ytn,fill:'tozeroy',
    fillcolor:'rgba(247,165,55,0.6)',line:{color:'#f29a25',width:0.7},hoverinfo:'skip'});
  // temperatures
  const tx=[];
  for(let d=0;d<n;d++) for(const h of sampleHours) tx.push(d+1+h/24);
  traces.push({type:'scatter',mode:'lines',x:tx,y:monthOut[i],xaxis:xn,yaxis:ytn,line:{color:'#3c3cf0',width:1},name:'Outside air temperature'});
  traces.push({type:'scatter',mode:'lines',x:tx,y:monthRoom[i],xaxis:xn,yaxis:ytn,line:{color:'#f03232',width:1},name:'Room representative temperature'});
  // modes
  const mm=monthModes[i];
  for(let m=1;m<=7;m++){
    const segs=mm[m]; if(!segs) continue;
    const mx=[],my=[];
    for(let k=0;k<segs.length;k+=2){mx.push(segs[k],segs[k+1],null);my.push(m,m,null);}
    traces.push({type:'scatter',mode:'lines',x:mx,y:my,xaxis:xn,yaxis:ysn,line:{color:modeColors[m-1],width:modeWidths[m-1]},name:modeNames[m-1]});
  }

  const xk=i===0?'xaxis':'xaxis'+(i+1);
  const ysk=i===0?'yaxis':'yaxis'+(2*i+1);
  const ytk='yaxis'+(2*i+2);
  layout[xk]={domain:[px(plotX0),px(plotX0+dayW*n)],range:[1,n+1],anchor:ysn,side:'top',
    tickvals:days,ticktext:days.map(String),tickfont:{size:4,color:'#777',family:FONT},ticks:'outside',ticklen:1.5,tickcolor:'#999',
    showgrid:true,gridcolor:'#d2d2d2',gridwidth:0.5,zeroline:false,showline:false,fixedrange:true};
  layout[ysk]={domain:[py(sBot),py(sTop)],range:[7.8,0.3],anchor:xn,showticklabels:false,showgrid:false,zeroline:false,ticks:'',fixedrange:true};
  layout[ytk]={domain:[py(bot-1),py(sBot)],range:[0,10.4],anchor:xn,side:'right',tickvals:[2,4,6,8],
    tickfont:{size:4,color:'#777',family:FONT},ticks:'outside',ticklen:1.5,tickcolor:'#999',showgrid:false,zeroline:false,fixedrange:true};

  const xd=xn+' domain';
  shapes.push({type:'rect',xref:xd,yref:ysn+' domain',x0:0,x1:1,y0:0,y1:1,fillcolor:'#ebebeb',line:{width:0},layer:'below'});
  shapes.push({type:'rect',xref:xd,yref:ysn+' domain',x0:0,x1:1,y0:0,y1:1,line:{color:'#a0a0a0',width:0.7},layer:'above'});
  shapes.push({type:'rect',xref:xd,yref:ytn+' domain',x0:0,x1:1,y0:0,y1:1,line:{color:'#a0a0a0',width:0.7},layer:'above'});
  // small mode key squares at left of each strip
  for(let m=0;m<7;m++){
    const y0=sTop+1+m*3;
    shapes.push({type:'rect',xref:'paper',yref:'paper',x0:px(20),x1:px(24),y0:py(y0+2.6),y1:py(y0),
      fillcolor:modeColors[m],line:{width:0}});
    shapes.push({type:'line',xref:'paper',yref:'paper',x0:px(24.5),x1:px(27),y0:py(y0+1.3),y1:py(y0+1.3),line:{color:'#888',width:1}});
  }
  // month label
  annotations.push({x:px(10.5),y:py((top+bot)/2),xref:'paper',yref:'paper',xanchor:'center',yanchor:'middle',
    text:monthNames[i],textangle:-90,showarrow:false,font:{family:'DejaVu Sans',size:8.5,color:'#111'}});
  // separators
  if(i>0) shapes.push({type:'line',xref:'paper',yref:'paper',x0:px(3),x1:px(545),y0:py(top),y1:py(top),line:{color:'#222',width:1}});
}
// outer frame and label column
shapes.push({type:'rect',xref:'paper',yref:'paper',x0:px(3),x1:px(545),y0:py(685),y1:py(7),line:{color:'#222',width:1}});
shapes.push({type:'line',xref:'paper',yref:'paper',x0:px(18),x1:px(18),y0:py(685),y1:py(7),line:{color:'#222',width:0.8}});

// extracted-part boxes [x0,x1,y0,y1] in pixels and label positions
const figBoxes=[[273,375,7,62],[28,128,118,172],[110,210,173,228],[76,177,229,287],[452,537,409,466],[28,46,466,522],[28,126,523,575],[242,339,523,575],[143,242,577,630],[358,457,633,685]];
const figLabelPos=[[316,21],[75,142],[157,196],[122,251],[496,431],[0,0],[72,553],[290,553],[182,599],[402,662]];
figBoxes.forEach((b,k)=>{
  shapes.push({type:'rect',xref:'paper',yref:'paper',x0:px(b[0]),x1:px(b[1]),y0:py(b[3]),y1:py(b[2]),line:{color:'#000',width:1.6,dash:'dot'},layer:'above'});
  if(figureLabels[k]) annotations.push({x:px(figLabelPos[k][0]),y:py(figLabelPos[k][1]),xref:'paper',yref:'paper',text:figureLabels[k],showarrow:false,
    font:{family:FONT,size:7,color:'#111'},bgcolor:'rgba(255,255,255,0)'});
});

// ---------------- LEGEND ----------------
function txt(x,y,t,size,bold){annotations.push({x:px(x),y:py(y),xref:'paper',yref:'paper',xanchor:'left',yanchor:'middle',text:bold?'<b>'+t+'</b>':t,showarrow:false,font:{family:FONT,size:size||6,color:'#111'}});}
function box(x0,x1,y0,y1,fill,lc){shapes.push({type:'rect',xref:'paper',yref:'paper',x0:px(x0),x1:px(x1),y0:py(y1),y1:py(y0),fillcolor:fill,line:{color:lc||'#555',width:0.7}});}
const ly1=695;
txt(14,ly1,'Mode:',9,true);
box(46,58,ly1-3,ly1+3,'#fff','#333'); txt(58,ly1,'Daytime Use');
box(108,120,ly1-3,ly1+3,'#9a9a9a','#333'); txt(120,ly1,'Nighttime Use');
const legModeX=[176,213,253,290,328,366,403];
legModeX.forEach((x,k)=>{box(x,x+7,ly1-3,ly1+3,modeColors[k],'#bbb'); txt(x+8,ly1,modeNames[k]);});
const ly2=711;
shapes.push({type:'line',xref:'paper',yref:'paper',x0:px(46),x1:px(67),y0:py(ly2),y1:py(ly2),line:{color:'#2020e0',width:2.2}});
txt(67,ly2,': Outside air temperature');
shapes.push({type:'line',xref:'paper',yref:'paper',x0:px(174),x1:px(194),y0:py(ly2),y1:py(ly2),line:{color:'#e02020',width:2.2}});
txt(194,ly2,': Room representative temperature');
const ly3=724;
[[52,ly3-2.5,ly3-2.5],[45,ly3-0.5,ly3-1],[39,ly3+2,ly3+0.8]].forEach(l=>{
  shapes.push({type:'line',xref:'paper',yref:'paper',x0:px(l[0]),x1:px(69),y0:py(l[1]),y1:py(l[2]),line:{color:'#f4a020',width:1.2}});});
txt(69,ly3,': Illuminance at the center of the living room');
const ly4=738;
shapes.push({type:'rect',xref:'paper',yref:'paper',x0:px(42),x1:px(66),y0:py(746),y1:py(730),line:{color:'#000',width:1.6,dash:'dot'}});
txt(66,ly4,': extracted parts in the following sections are indicated.');

Plotly.newPlot('chart',traces,layout,{displayModeBar:false,staticPlot:true});
</script></body></html>
